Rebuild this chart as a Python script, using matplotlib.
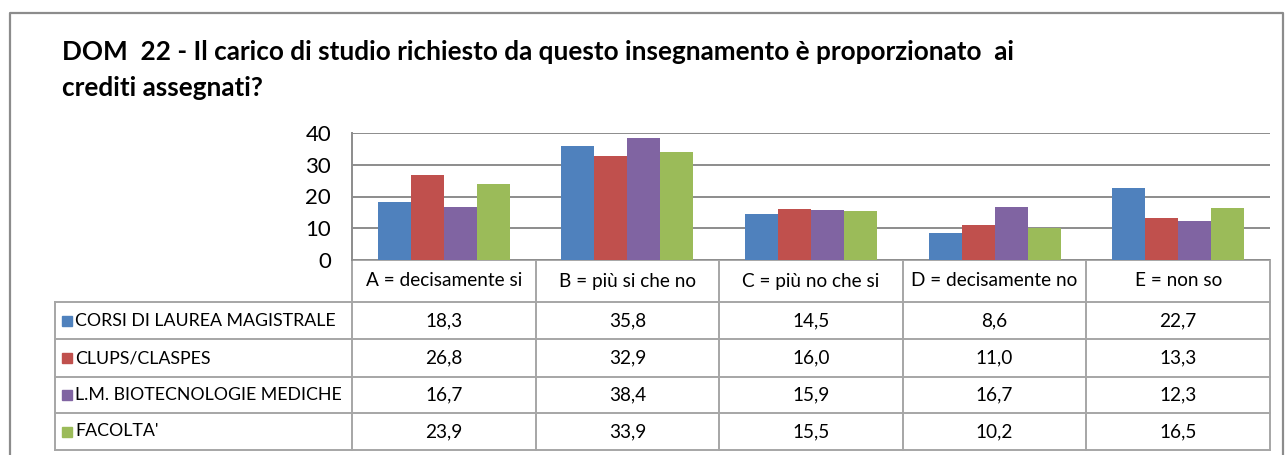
import matplotlib
matplotlib.use('Agg')
import matplotlib.pyplot as plt
import numpy as np

categories = ['A = decisamente si', 'B = più si che no', 'C = più no che si',
              'D = decisamente no', 'E = non so']
series_names = ['CORSI DI LAUREA MAGISTRALE', 'CLUPS/CLASPES',
                'L.M. BIOTECNOLOGIE MEDICHE', "FACOLTA'"]
corsi = [18.3, 35.8, 14.5, 8.6, 22.7]
clups = [26.8, 32.9, 16.0, 11.0, 13.3]
biotec = [16.7, 38.4, 15.9, 16.7, 12.3]
facolta = [23.9, 33.9, 15.5, 10.2, 16.5]
values = [corsi, clups, biotec, facolta]
colors = ['#4F81BD', '#C0504D', '#8064A2', '#9BBB59']
yticks = [0, 10, 20, 30, 40]

W, H = 1286, 455
plt.rcParams['font.family'] = ['Lato', 'DejaVu Sans']
fig = plt.figure(figsize=(W / 100, H / 100), dpi=100)

# background axes in pixel coordinates for border, title and table grid
bg = fig.add_axes([0, 0, 1, 1])
bg.set_xlim(0, W)
bg.set_ylim(H, 0)
bg.axis('off')

grey = '#8c8c8c'
bg.plot([10, 10, 1283, 1283], [H + 5, 13, 13, H + 5], color=grey, lw=1.6)

bg.text(62, 52, 'DOM  22 - Il carico di studio richiesto da questo insegnamento è proporzionato  ai',
        fontsize=18.8, fontweight='bold', va='center', ha='left')
bg.text(62, 88, 'crediti assegnati?', fontsize=18.8, fontweight='bold', va='center', ha='left')

# plot area
left, right, top, bottom = 352, 1270, 133, 260
ax = fig.add_axes([left / W, 1 - bottom / H, (right - left) / W, (bottom - top) / H])
x = np.arange(len(categories))
w = 0.18
for i, vals in enumerate(values):
    ax.bar(x + (i - 1.5) * w, vals, width=w, color=colors[i], zorder=3)
ax.set_xlim(-0.5, len(categories) - 0.5)
ax.set_ylim(0, 40)
ax.set_yticks(yticks)
ax.set_yticklabels([str(t) for t in yticks], fontsize=16)
ax.tick_params(axis='y', length=0, pad=15)
ax.set_xticks([])
ax.yaxis.grid(True, color=grey, lw=1.4, zorder=0)
for s in ['top', 'right', 'bottom']:
    ax.spines[s].set_visible(False)
ax.spines['left'].set_color(grey)
ax.spines['left'].set_linewidth(1.4)

# data table
col_edges = np.linspace(left, right, len(categories) + 1)
row_edges = [260, 302, 339, 377, 413, 450]
tleft = 55
lc = '#a6a6a6'
for y in row_edges:
    x0 = left if y == row_edges[0] else tleft
    bg.plot([x0, right], [y, y], color=lc, lw=1.4)
for xe in col_edges:
    bg.plot([xe, xe], [row_edges[0], row_edges[-1]], color=lc, lw=1.4)
bg.plot([tleft, tleft], [row_edges[1], row_edges[-1]], color=lc, lw=1.4)

for j, cat in enumerate(categories):
    xc = (col_edges[j] + col_edges[j + 1]) / 2
    bg.text(xc, (row_edges[0] + row_edges[1]) / 2, cat, fontsize=13.7,
            ha='center', va='center')
for i, name in enumerate(series_names):
    yc = (row_edges[i + 1] + row_edges[i + 2]) / 2
    bg.add_patch(plt.Rectangle((62, yc - 5), 10, 10, color=colors[i]))
    bg.text(75, yc, name, fontsize=12.8, ha='left', va='center')
    for j, v in enumerate(values[i]):
        xc = (col_edges[j] + col_edges[j + 1]) / 2
        bg.text(xc, yc, f'{v:.1f}'.replace('.', ','), fontsize=13.7,
                ha='center', va='center')

fig.savefig('out.png', dpi=100)
